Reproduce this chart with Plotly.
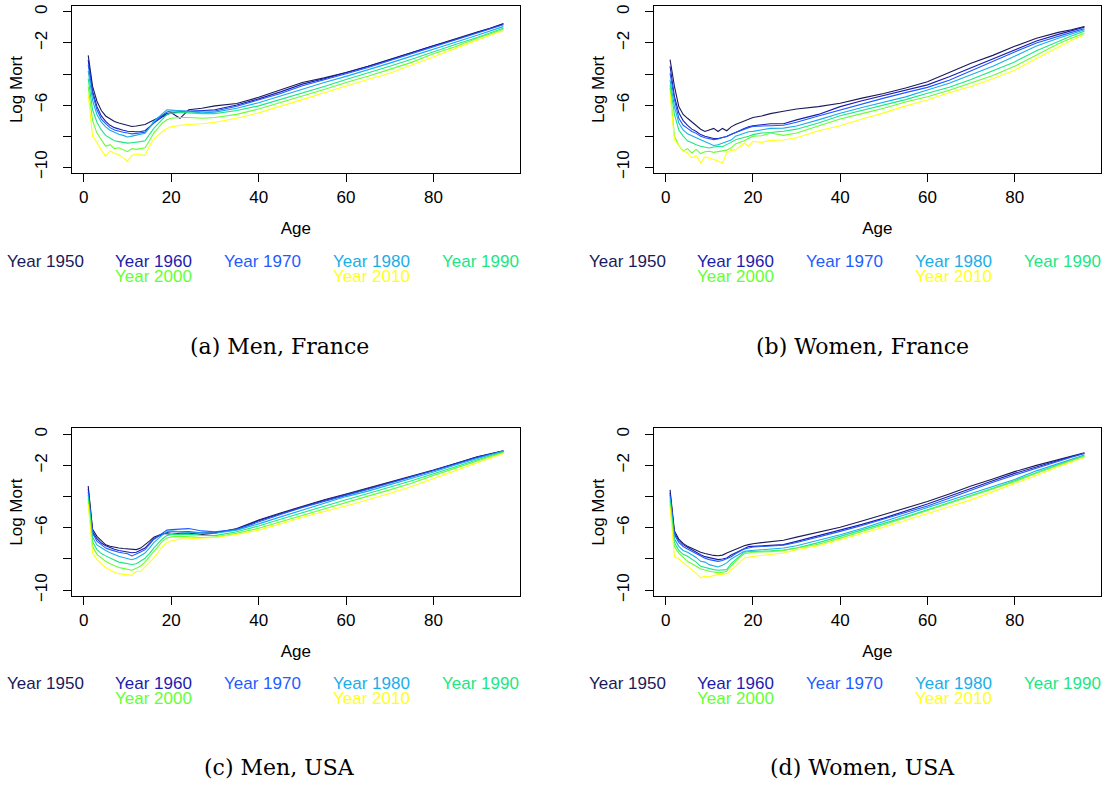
import plotly.graph_objects as go

AGES = [1, 2, 3, 4, 5, 6, 7, 8, 9, 10, 11, 12, 13, 14, 15, 16, 18, 19, 20, 22, 24, 27,
        30, 35, 40, 45, 50, 55, 60, 65, 70, 75, 80, 85, 90, 93, 96]
YEARS = ["1950", "1960", "1970", "1980", "1990", "2000", "2010"]
COLORS = ["#1a1a5a", "#1c1cb0", "#1f5cff", "#1aaee8", "#1de683", "#66ff33", "#ffff1a"]
X_TICKS = [0, 20, 40, 60, 80]
Y_TICKS = [0, -2, -4, -6, -8, -10]
Y_TICKTEXT = ["0", "\u22122", "", "\u22126", "", "\u221210"]

MEN_FRANCE = [
    [-2.8, -4.8, -5.75, -6.35, -6.7, -6.9, -7.05, -7.15, -7.22, -7.3, -7.38, -7.35, -7.32, -7.25, -7.1, -6.95, -6.7, -6.55, -6.5, -6.85, -6.3, -6.2, -6.05, -5.9, -5.5, -5.05, -4.55, -4.25, -3.9, -3.5, -3.05, -2.6, -2.15, -1.75, -1.3, -1.05, -0.75],
    [-3.1, -5.1, -6.1, -6.7, -7.05, -7.3, -7.45, -7.55, -7.62, -7.68, -7.72, -7.72, -7.7, -7.65, -7.4, -7.15, -6.75, -6.6, -6.5, -6.45, -6.42, -6.38, -6.3, -6.0, -5.6, -5.15, -4.65, -4.3, -3.92, -3.52, -3.08, -2.62, -2.18, -1.78, -1.33, -1.08, -0.78],
    [-3.4, -5.3, -6.3, -6.9, -7.2, -7.45, -7.6, -7.7, -7.75, -7.8, -7.85, -7.82, -7.8, -7.75, -7.45, -7.15, -6.65, -6.45, -6.38, -6.38, -6.4, -6.42, -6.38, -6.08, -5.68, -5.25, -4.75, -4.38, -3.98, -3.58, -3.14, -2.68, -2.24, -1.83, -1.38, -1.13, -0.83],
    [-3.8, -5.7, -6.6, -7.1, -7.4, -7.62, -7.75, -7.88, -7.95, -8.05, -8.0, -7.95, -7.9, -7.82, -7.45, -7.05, -6.55, -6.3, -6.32, -6.38, -6.45, -6.5, -6.45, -6.2, -5.85, -5.4, -4.95, -4.55, -4.15, -3.75, -3.3, -2.85, -2.38, -1.95, -1.5, -1.25, -0.95],
    [-4.3, -6.3, -7.1, -7.6, -7.95, -8.1, -8.3, -8.35, -8.4, -8.45, -8.42, -8.4, -8.35, -8.3, -7.9, -7.5, -6.9, -6.6, -6.52, -6.48, -6.5, -6.55, -6.55, -6.35, -6.05, -5.65, -5.2, -4.8, -4.35, -3.95, -3.5, -3.05, -2.55, -2.1, -1.65, -1.35, -1.05],
    [-4.8, -7.0, -7.8, -8.2, -8.65, -8.55, -8.8, -8.75, -8.85, -9.0, -8.8, -8.85, -8.8, -8.75, -8.3, -7.8, -7.15, -6.95, -6.85, -6.8, -6.8, -6.85, -6.8, -6.6, -6.25, -5.85, -5.4, -5.0, -4.55, -4.15, -3.7, -3.25, -2.7, -2.25, -1.7, -1.42, -1.12],
    [-5.3, -8.0, -8.4, -8.9, -9.3, -8.95, -9.1, -9.2, -9.4, -9.6, -9.25, -9.15, -9.2, -9.25, -8.65, -8.2, -7.7, -7.5, -7.4, -7.3, -7.25, -7.2, -7.1, -6.85, -6.5, -6.1, -5.65, -5.2, -4.75, -4.35, -3.95, -3.45, -2.9, -2.35, -1.8, -1.5, -1.22],
]

WOMEN_FRANCE = [
    [-3.07, -4.8, -6.1, -6.6, -6.85, -7.1, -7.3, -7.55, -7.7, -7.6, -7.5, -7.7, -7.5, -7.65, -7.4, -7.25, -7.0, -6.9, -6.8, -6.7, -6.55, -6.4, -6.25, -6.1, -5.88, -5.55, -5.25, -4.9, -4.5, -3.9, -3.3, -2.8, -2.22, -1.7, -1.32, -1.15, -0.94],
    [-3.5, -5.45, -6.5, -7.0, -7.3, -7.55, -7.7, -7.9, -8.0, -8.1, -8.15, -8.15, -8.1, -8.02, -7.9, -7.75, -7.5, -7.4, -7.33, -7.27, -7.2, -7.2, -6.95, -6.6, -6.1, -5.72, -5.38, -5.05, -4.7, -4.18, -3.6, -3.05, -2.43, -1.88, -1.45, -1.22, -0.98],
    [-3.95, -5.65, -6.85, -7.3, -7.5, -7.7, -7.82, -8.0, -8.1, -8.18, -8.22, -8.18, -8.1, -8.0, -7.88, -7.76, -7.55, -7.45, -7.37, -7.33, -7.33, -7.3, -7.1, -6.7, -6.31, -5.92, -5.55, -5.2, -4.86, -4.4, -3.78, -3.2, -2.58, -2.0, -1.55, -1.32, -1.09],
    [-4.4, -6.1, -7.15, -7.6, -7.85, -8.0, -8.1, -8.23, -8.35, -8.45, -8.6, -8.55, -8.45, -8.35, -8.25, -8.0, -7.8, -7.72, -7.69, -7.59, -7.5, -7.48, -7.35, -6.95, -6.52, -6.15, -5.8, -5.47, -5.03, -4.6, -4.05, -3.5, -2.86, -2.2, -1.7, -1.42, -1.15],
    [-4.7, -6.6, -7.6, -8.0, -8.3, -8.45, -8.55, -8.65, -8.7, -8.76, -8.7, -8.65, -8.68, -8.55, -8.4, -8.23, -8.1, -8.0, -7.9, -7.8, -7.76, -7.68, -7.55, -7.15, -6.69, -6.35, -5.98, -5.65, -5.24, -4.85, -4.35, -3.8, -3.22, -2.5, -1.9, -1.55, -1.24],
    [-4.9, -8.0, -8.6, -8.95, -8.8, -9.08, -8.85, -9.12, -9.0, -8.97, -9.04, -9.0, -8.97, -8.9, -8.75, -8.5, -8.3, -8.15, -8.0, -7.97, -7.8, -7.95, -7.8, -7.35, -6.9, -6.55, -6.2, -5.8, -5.46, -5.05, -4.6, -4.1, -3.5, -2.75, -2.05, -1.7, -1.37],
    [-5.25, -8.23, -8.6, -8.95, -9.08, -9.4, -9.25, -9.72, -9.33, -9.4, -9.5, -9.6, -9.72, -9.08, -8.88, -8.9, -8.44, -8.65, -8.33, -8.4, -8.27, -8.25, -8.1, -7.65, -7.33, -6.9, -6.5, -6.05, -5.67, -5.2, -4.8, -4.3, -3.76, -3.0, -2.25, -1.85, -1.47],
]

MEN_USA = [
    [-3.32, -6.1, -6.55, -6.85, -7.09, -7.18, -7.25, -7.3, -7.33, -7.36, -7.38, -7.4, -7.3, -7.1, -6.85, -6.6, -6.38, -6.38, -6.42, -6.35, -6.35, -6.42, -6.35, -6.05, -5.5, -5.05, -4.6, -4.2, -3.83, -3.45, -3.04, -2.7, -2.3, -1.88, -1.45, -1.25, -1.06],
    [-3.5, -6.25, -6.7, -6.98, -7.15, -7.28, -7.38, -7.45, -7.5, -7.57, -7.6, -7.57, -7.45, -7.3, -7.0, -6.7, -6.42, -6.3, -6.25, -6.25, -6.25, -6.32, -6.3, -6.1, -5.55, -5.1, -4.65, -4.25, -3.88, -3.5, -3.1, -2.72, -2.33, -1.9, -1.47, -1.27, -1.08],
    [-3.7, -6.35, -6.85, -7.1, -7.3, -7.4, -7.5, -7.57, -7.62, -7.66, -7.8, -7.7, -7.55, -7.4, -7.05, -6.75, -6.35, -6.15, -6.12, -6.1, -6.05, -6.2, -6.25, -6.1, -5.6, -5.15, -4.7, -4.3, -3.92, -3.55, -3.15, -2.76, -2.36, -1.93, -1.5, -1.28, -1.08],
    [-3.9, -6.6, -7.1, -7.3, -7.45, -7.6, -7.72, -7.83, -7.9, -8.0, -8.05, -7.95, -7.8, -7.62, -7.3, -6.95, -6.45, -6.25, -6.2, -6.25, -6.3, -6.32, -6.35, -6.15, -5.75, -5.3, -4.85, -4.45, -4.0, -3.65, -3.25, -2.85, -2.42, -1.98, -1.55, -1.32, -1.1],
    [-4.1, -6.9, -7.4, -7.65, -7.8, -7.95, -8.08, -8.2, -8.25, -8.3, -8.35, -8.3, -8.15, -7.95, -7.65, -7.3, -6.7, -6.5, -6.42, -6.4, -6.42, -6.48, -6.5, -6.25, -5.88, -5.45, -5.02, -4.6, -4.2, -3.8, -3.4, -2.98, -2.53, -2.08, -1.62, -1.38, -1.15],
    [-4.3, -7.2, -7.7, -7.95, -8.15, -8.3, -8.42, -8.55, -8.6, -8.68, -8.72, -8.6, -8.45, -8.2, -7.85, -7.5, -6.85, -6.65, -6.58, -6.55, -6.58, -6.62, -6.6, -6.35, -6.03, -5.62, -5.17, -4.75, -4.37, -3.97, -3.57, -3.15, -2.64, -2.2, -1.72, -1.45, -1.18],
    [-4.5, -7.6, -8.04, -8.3, -8.55, -8.7, -8.85, -8.94, -8.98, -9.0, -9.05, -8.8, -8.8, -8.5, -8.2, -7.94, -7.2, -6.95, -6.85, -6.72, -6.7, -6.68, -6.62, -6.42, -6.15, -5.75, -5.32, -4.95, -4.6, -4.2, -3.8, -3.35, -2.85, -2.35, -1.83, -1.52, -1.23],
]

WOMEN_USA = [
    [-3.57, -6.2, -6.72, -7.0, -7.19, -7.32, -7.45, -7.57, -7.65, -7.72, -7.77, -7.79, -7.75, -7.62, -7.5, -7.4, -7.15, -7.08, -7.02, -6.95, -6.9, -6.8, -6.6, -6.3, -5.96, -5.57, -5.17, -4.75, -4.32, -3.83, -3.32, -2.87, -2.4, -2.0, -1.62, -1.4, -1.19],
    [-3.75, -6.35, -6.8, -7.08, -7.25, -7.42, -7.57, -7.72, -7.85, -7.93, -8.0, -8.04, -8.0, -7.94, -7.75, -7.6, -7.3, -7.2, -7.19, -7.15, -7.12, -7.08, -6.87, -6.52, -6.17, -5.78, -5.38, -4.95, -4.47, -3.98, -3.47, -2.98, -2.51, -2.08, -1.68, -1.45, -1.22],
    [-3.9, -6.45, -6.93, -7.2, -7.36, -7.5, -7.65, -7.83, -7.95, -8.04, -8.1, -8.15, -8.1, -8.0, -7.85, -7.66, -7.36, -7.3, -7.23, -7.2, -7.15, -7.12, -6.94, -6.6, -6.23, -5.85, -5.45, -5.05, -4.6, -4.1, -3.57, -3.08, -2.62, -2.18, -1.7, -1.48, -1.23],
    [-4.1, -6.7, -7.19, -7.45, -7.57, -7.75, -7.9, -8.15, -8.2, -8.36, -8.45, -8.51, -8.4, -8.25, -8.0, -7.83, -7.51, -7.47, -7.45, -7.4, -7.38, -7.3, -7.15, -6.8, -6.45, -6.05, -5.6, -5.2, -4.74, -4.25, -3.83, -3.35, -2.9, -2.35, -1.87, -1.6, -1.34],
    [-4.3, -6.95, -7.45, -7.7, -7.83, -8.0, -8.2, -8.47, -8.55, -8.64, -8.68, -8.72, -8.72, -8.68, -8.3, -8.04, -7.57, -7.53, -7.51, -7.5, -7.48, -7.43, -7.3, -6.95, -6.55, -6.15, -5.7, -5.3, -4.85, -4.4, -3.96, -3.47, -2.98, -2.45, -1.92, -1.65, -1.4],
    [-4.5, -7.2, -7.62, -7.9, -8.15, -8.3, -8.45, -8.64, -8.7, -8.79, -8.83, -8.89, -8.85, -8.79, -8.45, -8.15, -7.66, -7.6, -7.57, -7.55, -7.53, -7.45, -7.3, -7.05, -6.66, -6.25, -5.81, -5.35, -4.89, -4.45, -4.0, -3.53, -3.04, -2.5, -1.97, -1.7, -1.42],
    [-4.7, -7.83, -8.0, -8.25, -8.47, -8.7, -8.9, -9.21, -9.1, -9.15, -9.05, -9.0, -8.95, -8.94, -8.7, -8.47, -7.94, -7.88, -7.83, -7.78, -7.7, -7.62, -7.4, -7.15, -6.77, -6.38, -5.96, -5.53, -5.11, -4.65, -4.21, -3.7, -3.19, -2.65, -2.09, -1.8, -1.49],
]

CAPTIONS = ["(a) Men, France", "(b) Women, France", "(c) Men, USA", "(d) Women, USA"]

W, H = 1107, 785
SANS = "Liberation Sans, Arial, Helvetica, sans-serif"
SERIF = "DejaVu Serif, serif"
FS = 17

# panel boxes in pixels: (left, right, top, bottom)
PANELS = [
    (71.6, 520.0, 4.7, 174.0),
    (653.5, 1101.0, 4.7, 174.0),
    (71.6, 520.0, 430.8, 600.8),
    (653.5, 1101.0, 430.8, 600.8),
]
LEGEND_X = [
    [4.6, 113.1, 221.5, 331.0, 440.1],
    [587.3, 695.0, 803.8, 913.2, 1021.6],
]
LEGEND_ROWS = [(262.5, 278.0), (688.5, 704.0)]
CAPTION_X = [279, 862]
CAPTION_Y = [349, 773]

fig = go.Figure()
datasets = [MEN_FRANCE, WOMEN_FRANCE, MEN_USA, WOMEN_USA]

for p, data in enumerate(datasets):
    ax = "" if p == 0 else str(p + 1)
    for i, yr in enumerate(YEARS):
        fig.add_trace(go.Scatter(
            x=AGES, y=data[i], mode="lines",
            line=dict(color=COLORS[i], width=1.1),
            name="Year " + yr, showlegend=False,
            xaxis="x" + ax, yaxis="y" + ax,
        ))

layout = dict(
    width=W, height=H,
    margin=dict(l=0, r=0, t=0, b=0),
    paper_bgcolor="white", plot_bgcolor="white",
    showlegend=False,
    font=dict(family=SANS, size=FS, color="black"),
)
annotations = []
for p, (l, r, t, b) in enumerate(PANELS):
    ax = "" if p == 0 else str(p + 1)
    xd = [l / W, r / W]
    yd = [1 - b / H, 1 - t / H]
    layout["xaxis" + ax] = dict(
        domain=xd, range=[-2.8, 99.8], anchor="y" + ax,
        tickvals=X_TICKS, ticks="outside", ticklen=8, tickwidth=1, tickcolor="black",
        showline=True, mirror=True, linecolor="black", linewidth=1,
        showgrid=False, zeroline=False,
        tickfont=dict(family=SANS, size=FS, color="black"),
        title=dict(text="Age", font=dict(family=SANS, size=FS, color="black"), standoff=16),
    )
    layout["yaxis" + ax] = dict(
        domain=yd, range=[-10.4, 0.4], anchor="x" + ax,
        tickvals=Y_TICKS, ticktext=Y_TICKTEXT, tickangle=-90,
        ticks="outside", ticklen=8, tickwidth=1, tickcolor="black",
        ticklabelstandoff=9,
        showline=True, mirror=True, linecolor="black", linewidth=1,
        showgrid=False, zeroline=False,
        tickfont=dict(family=SANS, size=FS, color="black"),
        title=dict(text="Log Mort", font=dict(family=SANS, size=FS, color="black"), standoff=4),
    )
    col = p % 2
    row = 0 if p < 2 else 1
    row1_y, row2_y = LEGEND_ROWS[row]
    # legend row 1: 1950..1990, row 2: 2000 under 1960, 2010 under 1980
    for i in range(5):
        annotations.append(dict(
            text="Year " + YEARS[i], x=LEGEND_X[col][i] / W, y=1 - row1_y / H,
            xref="paper", yref="paper", xanchor="left", yanchor="middle",
            showarrow=False, font=dict(family=SANS, size=FS, color=COLORS[i]),
        ))
    for i, slot in ((5, 1), (6, 3)):
        annotations.append(dict(
            text="Year " + YEARS[i], x=LEGEND_X[col][slot] / W, y=1 - row2_y / H,
            xref="paper", yref="paper", xanchor="left", yanchor="middle",
            showarrow=False, font=dict(family=SANS, size=FS, color=COLORS[i]),
        ))
    annotations.append(dict(
        text=CAPTIONS[p], x=CAPTION_X[col] / W, y=1 - CAPTION_Y[row] / H,
        xref="paper", yref="paper", xanchor="center", yanchor="middle",
        showarrow=False, font=dict(family=SERIF, size=22, color="black"),
    ))
layout["annotations"] = annotations
fig.update_layout(**layout)
fig.write_html("out.html", config={"displayModeBar": False},
               post_script="document.body.style.margin='0';")
